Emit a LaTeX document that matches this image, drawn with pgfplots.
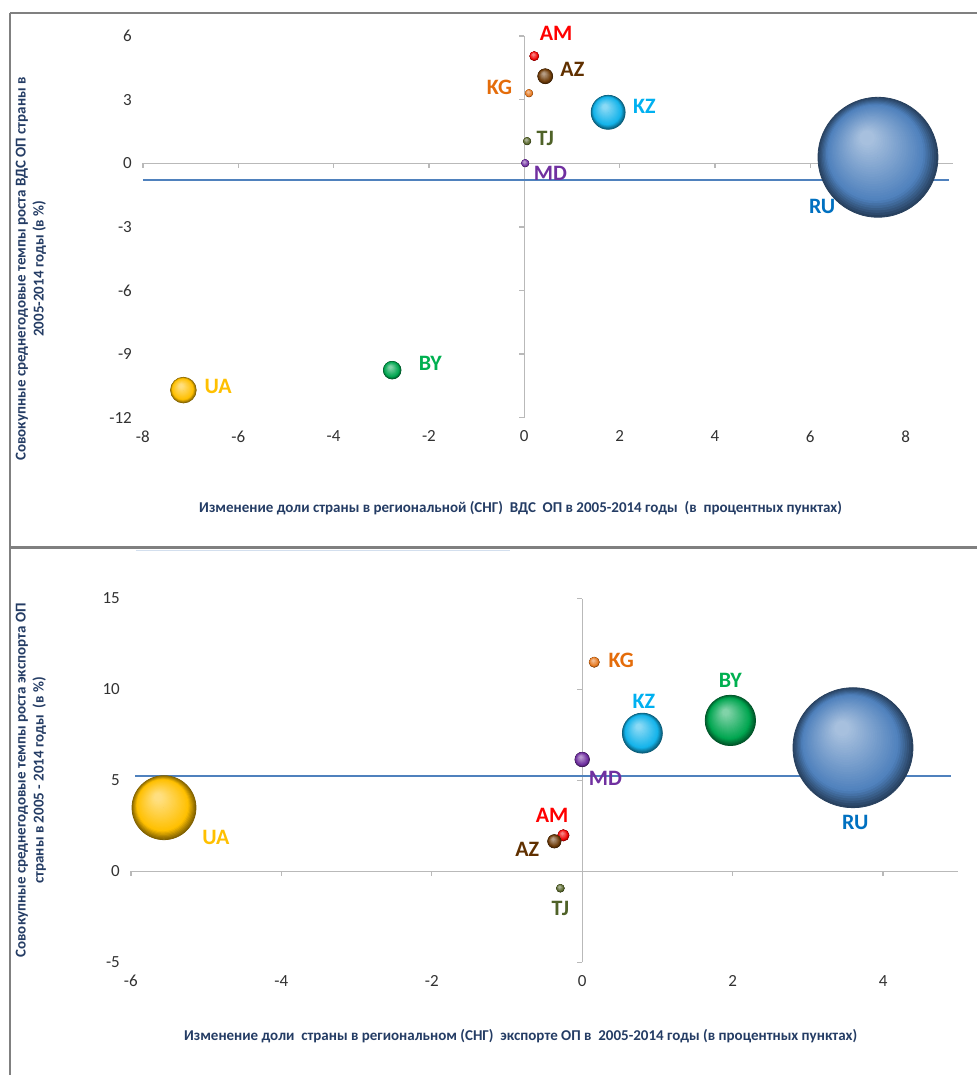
\documentclass[border=0pt]{standalone}
\usepackage{pgfplots}
\pgfplotsset{compat=1.18}
\usepackage{fontspec}
\setmainfont{Carlito}
\definecolor{navy}{RGB}{36,60,100}
\definecolor{tickgray}{RGB}{50,50,50}
\definecolor{axgray}{RGB}{185,185,185}
\definecolor{refblue}{RGB}{79,129,189}
\definecolor{cAM}{RGB}{240,0,0}
\definecolor{cAZ}{RGB}{110,60,10}
\definecolor{cKG}{RGB}{230,120,30}
\definecolor{cKZ}{RGB}{20,180,235}
\definecolor{cTJ}{RGB}{85,100,40}
\definecolor{cMD}{RGB}{112,48,160}
\definecolor{cRU}{RGB}{79,129,189}
\definecolor{cUA}{RGB}{255,192,0}
\definecolor{cBY}{RGB}{0,166,80}
\definecolor{tAM}{RGB}{255,0,0}
\definecolor{tAZ}{RGB}{96,48,0}
\definecolor{tKG}{RGB}{228,108,10}
\definecolor{tKZ}{RGB}{0,176,240}
\definecolor{tTJ}{RGB}{79,98,40}
\definecolor{tMD}{RGB}{112,48,160}
\definecolor{tRU}{RGB}{0,112,192}
\definecolor{tUA}{RGB}{255,192,0}
\definecolor{tBY}{RGB}{0,176,80}
% stacked-circle ball: #1 radius (pt), #2 colour
\newcommand\ballmark[2]{%
  \foreach \k in {0,...,30}{%
    \pgfmathsetmacro\f{\k/30}%
    \pgfmathsetmacro\rr{#1*(1-0.88*\f)}%
    \pgfmathsetmacro\dx{-0.18*#1*\f}%
    \pgfmathsetmacro\dy{0.32*#1*\f}%
    \ifdim\f pt<0.22pt
      \pgfmathsetmacro\p{50+50*\f/0.22}%
      \fill[#2!\p!black] (\dx pt,\dy pt) circle[radius=\rr pt];%
    \else
      \pgfmathsetmacro\p{100-50*(\f-0.22)/0.78}%
      \fill[#2!\p!white] (\dx pt,\dy pt) circle[radius=\rr pt];%
    \fi}}
\pgfplotsset{
  bub/.style 2 args={only marks, scatter, mark=*, mark size=0pt,
    mark options={draw=none, fill=none},
    scatter/@pre marker code/.code={\begin{scope}\ballmark{#1}{#2}},
    scatter/@post marker code/.code={\end{scope}}},
  common/.style={scale only axis, clip=false, axis line style={draw=none}, major tick length=0pt,
    tick label style={font=\fontsize{8.5}{10}\selectfont, color=tickgray},
    /pgf/number format/assume math mode=true,
    xticklabel style={yshift=-3pt}, yticklabel style={xshift=-2pt}},
}
\tikzset{lab/.style={font=\bfseries\fontsize{11}{12}\selectfont, text=#1, inner sep=0pt},
  axl/.style={draw=axgray, line width=0.7pt},
  refl/.style={draw=refblue, line width=1pt}}
\begin{document}
\begin{tikzpicture}[x=1pt,y=1pt]
\path (0,0) rectangle (489,-538);
\draw[gray, line width=0.8pt] (5,-6.5) -- (489,-6.5);
\draw[gray, line width=0.8pt] (5,-6.5) -- (5,-538);
\draw[gray, line width=1.5pt] (5,-274) -- (489,-274);
\draw[refblue!25, line width=0.6pt] (68,-275.5) -- (255,-275.5);
% ---------------- top panel
\begin{axis}[common, at={(71.5pt,-209pt)}, anchor=south west, width=405.5pt, height=191pt,
  xmin=-8, xmax=9, ymin=-12, ymax=6, xtick={-8,-6,...,8}, ytick={-12,-9,...,6}]
\draw[axl] (axis cs:-8,0) -- (axis cs:9,0);
\draw[axl] (axis cs:0,-12) -- (axis cs:0,6);
\pgfplotsinvokeforeach{-8,-6,-4,-2,2,4,6,8}{\draw[axl] (axis cs:#1,0) -- ([yshift=-2.5pt]axis cs:#1,0);}
\pgfplotsinvokeforeach{-12,-9,-6,-3,3,6}{\draw[axl] (axis cs:0,#1) -- ([xshift=-2.5pt]axis cs:0,#1);}
\addplot[bub={2.2}{cAM}] coordinates {(0.21,5.05)};
\addplot[bub={3.7}{cAZ}] coordinates {(0.44,4.1)};
\addplot[bub={1.8}{cKG}] coordinates {(0.1,3.3)};
\addplot[bub={8.5}{cKZ}] coordinates {(1.76,2.4)};
\addplot[bub={1.8}{cTJ}] coordinates {(0.06,1.04)};
\addplot[bub={1.8}{cMD}] coordinates {(0.02,0.0)};
\addplot[bub={30}{cRU}] coordinates {(7.42,0.28)};
\addplot[bub={6.4}{cUA}] coordinates {(-7.15,-10.7)};
\addplot[bub={4.4}{cBY}] coordinates {(-2.77,-9.76)};
\draw[refl] (axis cs:-8,-0.8) -- (axis cs:8.9,-0.8);
\node[lab=tAM] at (axis cs:0.67,6.13) {AM};
\node[lab=tAZ] at (axis cs:1.01,4.43) {AZ};
\node[lab=tKG] at (axis cs:-0.52,3.58) {KG};
\node[lab=tKZ] at (axis cs:2.52,2.69) {KZ};
\node[lab=tTJ] at (axis cs:0.44,1.18) {TJ};
\node[lab=tMD] at (axis cs:0.55,-0.47) {MD};
\node[lab=tRU] at (axis cs:6.25,-2.03) {RU};
\node[lab=tUA] at (axis cs:-6.42,-10.51) {UA};
\node[lab=tBY] at (axis cs:-1.97,-9.43) {BY};
\end{axis}
\node[rotate=90, align=center, font=\bfseries\fontsize{7.5}{9}\selectfont, text=navy] at (15.5,-134.5)
  {Совокупные среднегодовые темпы роста ВДС ОП страны в\\2005-2014 годы (в \%)};
\node[font=\bfseries\fontsize{7.5}{9}\selectfont, text=navy] at (260.5,-254.5)
  {Изменение доли страны\ в региональной (СНГ)\ \ ВДС\ \ ОП в 2005-2014 годы\ \ (в\ \ процентных пунктах)};
% ---------------- bottom panel
\begin{axis}[common, at={(65.5pt,-481.5pt)}, anchor=south west, width=414pt, height=182pt,
  xmin=-6, xmax=5, ymin=-5, ymax=15, xtick={-6,-4,...,4}, ytick={-5,0,...,15}]
\draw[axl] (axis cs:-6,0) -- (axis cs:5,0);
\draw[axl] (axis cs:0,-5) -- (axis cs:0,15);
\pgfplotsinvokeforeach{-6,-4,-2,2,4}{\draw[axl] (axis cs:#1,0) -- ([yshift=-2.5pt]axis cs:#1,0);}
\pgfplotsinvokeforeach{-5,5,10,15}{\draw[axl] (axis cs:0,#1) -- ([xshift=-2.5pt]axis cs:0,#1);}
\addplot[bub={16}{cUA}] coordinates {(-5.56,3.5)};
\addplot[bub={2.5}{cKG}] coordinates {(0.16,11.5)};
\addplot[bub={10}{cKZ}] coordinates {(0.8,7.6)};
\addplot[bub={12.6}{cBY}] coordinates {(1.97,8.3)};
\addplot[bub={30}{cRU}] coordinates {(3.6,6.8)};
\addplot[bub={3.6}{cMD}] coordinates {(0.0,6.15)};
\addplot[bub={2.8}{cAM}] coordinates {(-0.25,1.98)};
\addplot[bub={3.3}{cAZ}] coordinates {(-0.37,1.65)};
\addplot[bub={1.9}{cTJ}] coordinates {(-0.29,-0.93)};
\draw[refl] (axis cs:-5.94,5.27) -- (axis cs:4.9,5.27);
\node[lab=tKG] at (axis cs:0.52,11.59) {KG};
\node[lab=tBY] at (axis cs:1.97,10.49) {BY};
\node[lab=tKZ] at (axis cs:0.82,9.34) {KZ};
\node[lab=tMD] at (axis cs:0.31,5.11) {MD};
\node[lab=tRU] at (axis cs:3.63,2.69) {RU};
\node[lab=tAM] at (axis cs:-0.40,3.08) {AM};
\node[lab=tAZ] at (axis cs:-0.73,1.21) {AZ};
\node[lab=tUA] at (axis cs:-4.87,1.87) {UA};
\node[lab=tTJ] at (axis cs:-0.29,-2.03) {TJ};
\end{axis}
\node[rotate=90, align=center, font=\bfseries\fontsize{7.5}{9}\selectfont, text=navy] at (15.5,-390.5)
  {Совокупные среднегодовые темпы роста экспорта ОП\\страны в 2005 - 2014 годы\ \ (в \%)};
\node[font=\bfseries\fontsize{7.5}{9}\selectfont, text=navy] at (260.5,-518.5)
  {Изменение доли\ \ страны в региональном (СНГ)\ \ экспорте ОП в\ \ 2005-2014 годы (в процентных пунктах)};
\end{tikzpicture}
\end{document}
